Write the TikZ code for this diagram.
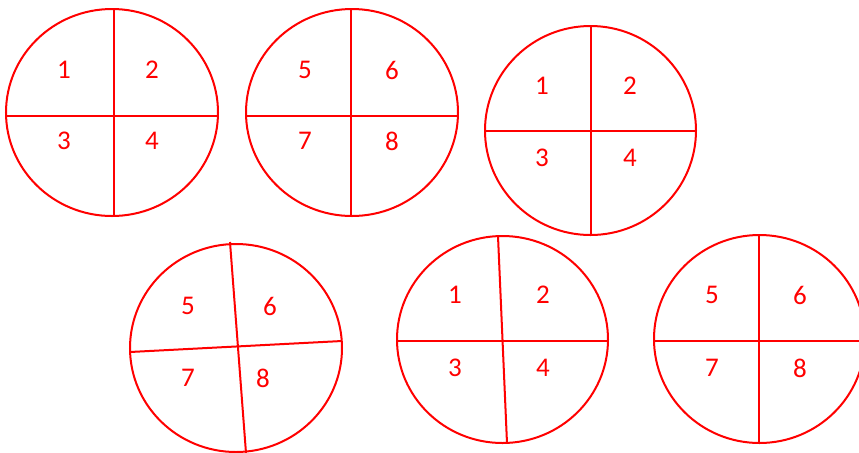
\documentclass[tikz,border=0pt]{standalone}
\usepackage{fontspec}
\setmainfont{Carlito}
\begin{document}
\begin{tikzpicture}[x=0.5pt, y=-0.5pt, line width=1pt,
  rim/.style={draw=red},
  num/.style={text=red, font=\fontsize{13.5}{15}\selectfont, inner sep=0pt}]
\useasboundingbox (0,0) rectangle (859,452);
\clip (0,0) rectangle (859,452);
% top row
\draw[rim] (112,112.5) ellipse (106 and 103.5);
\draw[rim] (114,9) -- (114,216);
\draw[rim] (6,116) -- (218,116);
\draw[rim] (352,112.5) ellipse (106 and 103.5);
\draw[rim] (351,9) -- (351,216);
\draw[rim] (246,116) -- (458,116);
\draw[rim] (590.5,130.5) ellipse (105.5 and 104.5);
\draw[rim] (591,26) -- (591,235);
\draw[rim] (485,131) -- (696,131);
\foreach \a/\b/\c/\d [count=\k] in {1/2/3/4, 5/6/7/8, 1/2/3/4}
{
  \pgfmathsetmacro{\xl}{{64,305,542}[\k-1]}
  \pgfmathsetmacro{\xr}{{152,392,630}[\k-1]}
  \pgfmathsetmacro{\yt}{{70,70,86}[\k-1]}
  \pgfmathsetmacro{\yb}{{141,141,158}[\k-1]}
  \node[num] (t\k a) at (\xl,\yt) {\a};
  \node[num] (t\k b) at (\xr,\yt) {\b};
  \node[num] (t\k c) at (\xl,\yb) {\c};
  \node[num] (t\k d) at (\xr,\yb) {\d};
}
% bottom row
\draw[rim] (236,348) ellipse (106 and 104);
\draw[rim] (230,242) -- (246,453);
\draw[rim] (130,352) -- (342,341);
\node[num] (b1a) at (188,306) {5};
\node[num] (b1b) at (270,306) {6};
\node[num] (b1c) at (188,378) {7};
\node[num] (b1d) at (263,378) {8};
\draw[rim] (502.5,339.5) ellipse (105.5 and 103.5);
\draw[rim] (498,236) -- (507,443);
\draw[rim] (397,341) -- (608,341);
\node[num] (b2a) at (455,295) {1};
\node[num] (b2b) at (543,295) {2};
\node[num] (b2c) at (455,368) {3};
\node[num] (b2d) at (543,368) {4};
\draw[rim] (759.5,339) ellipse (105.5 and 104);
\draw[rim] (759,235) -- (759,443);
\draw[rim] (654,341) -- (865,341);
\node[num] (b3a) at (712,295) {5};
\node[num] (b3b) at (800,295) {6};
\node[num] (b3c) at (712,368) {7};
\node[num] (b3d) at (800,368) {8};
\end{tikzpicture}
\end{document}
